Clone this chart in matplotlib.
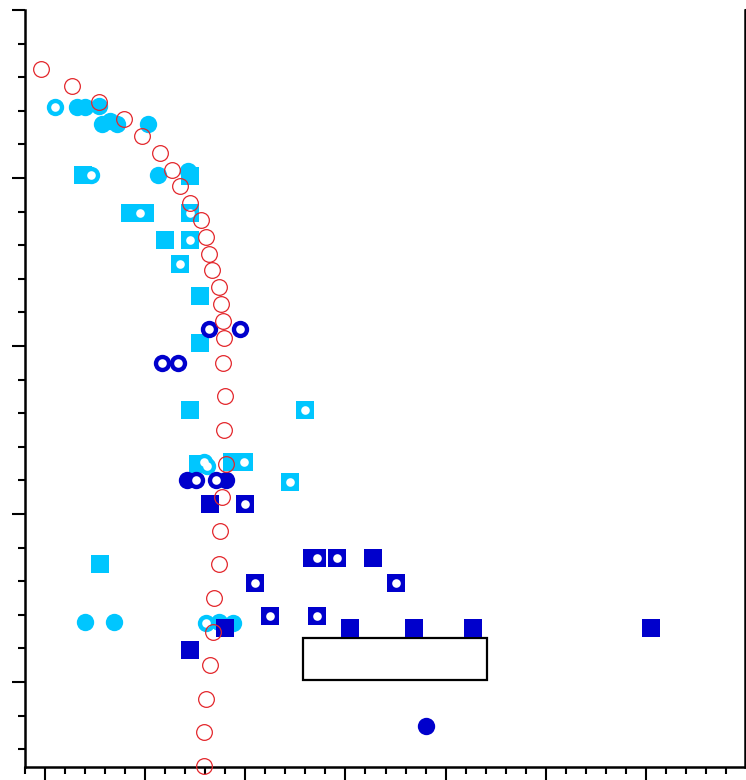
import matplotlib
matplotlib.use('Agg')
import matplotlib.pyplot as plt
from matplotlib.patches import Rectangle
from matplotlib.ticker import MultipleLocator

LIGHT = '#00C6FF'
DARK = '#0000CC'
RED = '#E3262B'

# reference curve (open red circles)
curve_x = [-0.04, 0.27, 0.54, 0.79, 0.97, 1.15, 1.27, 1.35, 1.45, 1.56, 1.61, 1.64, 1.67,
           1.74, 1.76, 1.78, 1.79, 1.78, 1.80, 1.79, 1.81, 1.77, 1.75, 1.74, 1.69, 1.68,
           1.65, 1.61, 1.59, 1.59]
curve_y = [3.65, 3.55, 3.45, 3.35, 3.25, 3.15, 3.05, 2.95, 2.85, 2.75, 2.65, 2.55, 2.45,
           2.35, 2.25, 2.15, 2.05, 1.90, 1.70, 1.50, 1.30, 1.10, 0.90, 0.70, 0.50, 0.30,
           0.10, -0.10, -0.30, -0.50]

# light blue series
lb_circle_x = [0.32, 0.40, 0.54, 0.57, 0.65, 0.72, 1.03, 1.13, 1.43, 0.40, 0.69, 1.74, 1.88]
lb_circle_y = [3.42, 3.42, 3.43, 3.32, 3.34, 3.32, 3.32, 3.02, 3.04, 0.36, 0.36, 0.36, 0.35]
lb_square_x = [0.38, 1.45, 0.85, 1.00, 1.20, 1.55, 1.55, 1.45, 1.53, 1.87, 0.55]
lb_square_y = [3.02, 3.01, 2.79, 2.79, 2.63, 2.30, 2.02, 1.62, 1.30, 1.31, 0.70]
lb_ring_x = [0.10, 0.46, 1.585, 1.615, 1.61]
lb_ring_y = [3.42, 3.02, 1.31, 1.285, 0.35]
lb_dotsq_x = [0.95, 1.45, 1.45, 1.35, 2.60, 1.99, 2.45]
lb_dotsq_y = [2.79, 2.79, 2.63, 2.49, 1.62, 1.31, 1.19]

# dark blue series
db_ring_x = [1.64, 1.95, 1.17, 1.33, 1.51, 1.71]
db_ring_y = [2.10, 2.10, 1.90, 1.90, 1.20, 1.20]
db_circle_x = [1.42, 1.81, 3.80]
db_circle_y = [1.20, 1.20, -0.26]
db_square_x = [1.65, 2.67, 3.28, 1.80, 1.45, 3.05, 3.68, 4.27, 6.05]
db_square_y = [1.06, 0.74, 0.74, 0.32, 0.19, 0.32, 0.32, 0.32, 0.32]
db_dotsq_x = [2.00, 2.72, 2.92, 2.10, 3.50, 2.25, 2.72]
db_dotsq_y = [1.06, 0.74, 0.74, 0.59, 0.59, 0.39, 0.39]


def dots(ax, xs, ys, z):
    ax.plot(xs, ys, 'o', ms=6.2, color='white', mew=0, clip_on=False, zorder=z)


def run():
    fig = plt.figure(figsize=(7.46, 7.80), dpi=100)
    ax = fig.add_axes([25 / 746, 13 / 780, 720 / 746, 757 / 780])

    ax.plot(lb_circle_x, lb_circle_y, 'o', ms=12.5, color=LIGHT, mew=0, clip_on=False, zorder=3)
    ax.plot(lb_square_x, lb_square_y, 's', ms=13, color=LIGHT, mew=0, clip_on=False, zorder=3)
    ax.plot(lb_ring_x, lb_ring_y, 'o', ms=12.5, color=LIGHT, mew=0, clip_on=False, zorder=4)
    dots(ax, lb_ring_x, lb_ring_y, 4.1)
    ax.plot(lb_dotsq_x, lb_dotsq_y, 's', ms=13, color=LIGHT, mew=0, clip_on=False, zorder=4.2)
    dots(ax, lb_dotsq_x, lb_dotsq_y, 4.3)

    ax.plot(db_circle_x, db_circle_y, 'o', ms=12.5, color=DARK, mew=0, clip_on=False, zorder=5)
    ax.plot(db_ring_x, db_ring_y, 'o', ms=12.5, color=DARK, mew=0, clip_on=False, zorder=5.1)
    dots(ax, db_ring_x, db_ring_y, 5.2)
    ax.plot(db_square_x, db_square_y, 's', ms=13, color=DARK, mew=0, clip_on=False, zorder=5.3)
    ax.plot(db_dotsq_x, db_dotsq_y, 's', ms=13, color=DARK, mew=0, clip_on=False, zorder=5.4)
    dots(ax, db_dotsq_x, db_dotsq_y, 5.5)

    ax.plot(curve_x, curve_y, 'o', ms=11.3, mfc='none', mec=RED, mew=0.9, clip_on=False, zorder=6)

    # empty legend frame
    ax.add_patch(Rectangle((2.58, 0.01), 1.83, 0.25, fill=True, facecolor='white',
                           edgecolor='black', lw=1.6, zorder=4.9))

    ax.set_xlim(-0.2, 6.99)
    ax.set_ylim(-0.506, 4.0)
    ax.spines['top'].set_visible(False)
    for side in ['left', 'bottom', 'right']:
        ax.spines[side].set_linewidth(1.8)
    ax.xaxis.set_major_locator(MultipleLocator(1))
    ax.xaxis.set_minor_locator(MultipleLocator(0.2))
    ax.yaxis.set_major_locator(MultipleLocator(1))
    ax.yaxis.set_minor_locator(MultipleLocator(0.2))
    ax.tick_params(which='major', length=9.5, width=1.5, direction='out',
                   labelleft=False, labelbottom=False, right=True)
    ax.tick_params(which='minor', length=5, width=1.5, direction='out', right=True)
    ax.tick_params(axis='y', which='both', labelright=False)

    fig.savefig('out.png', dpi=100)


if __name__ == '__main__':
    run()
